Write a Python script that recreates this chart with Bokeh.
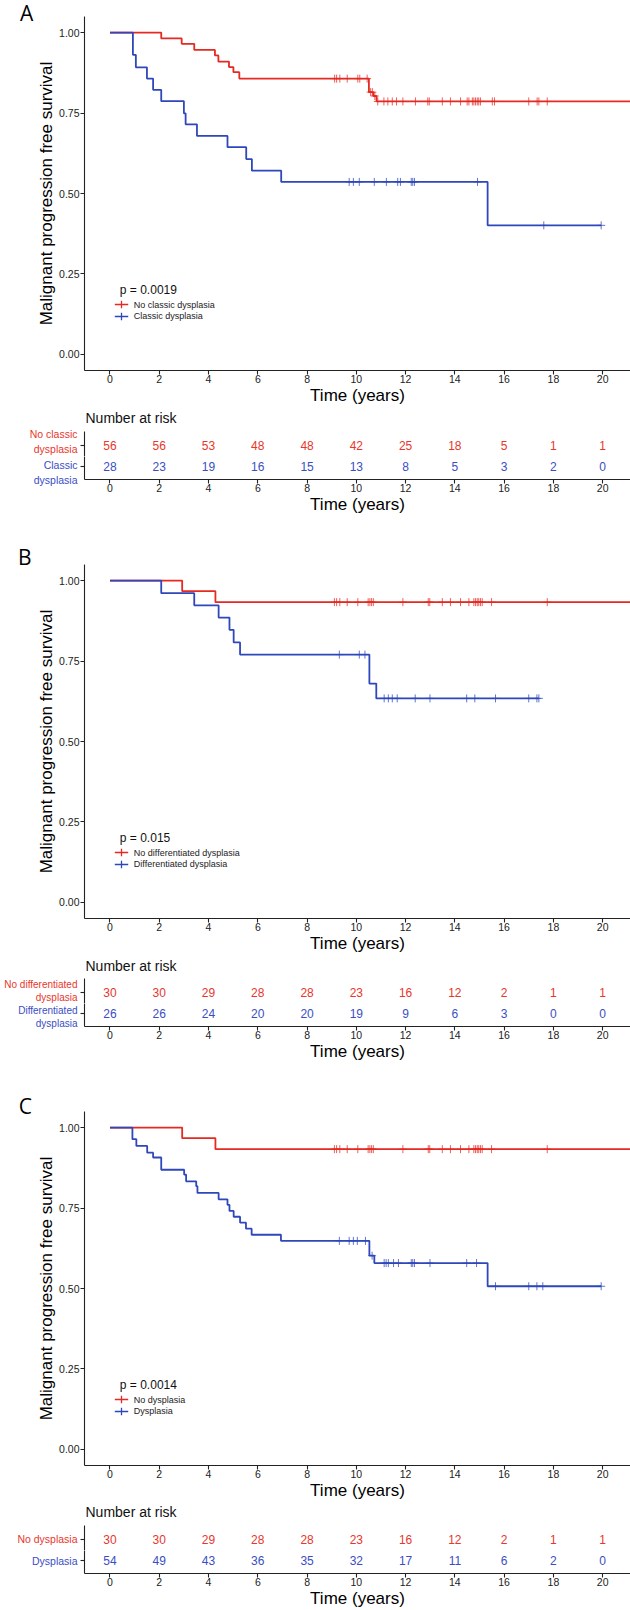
import numpy as np
from bokeh.plotting import figure
from bokeh.models import FixedTicker, NumeralTickFormatter, Range1d, ColumnDataSource, Title
from bokeh.layouts import column
from bokeh.embed import file_html
from bokeh.resources import INLINE
from bokeh.core.properties import value

# ---------------- data ----------------
time_ticks = [0, 2, 4, 6, 8, 10, 12, 14, 16, 18, 20]
surv_ticks = [0.0, 0.25, 0.5, 0.75, 1.0]

# Panel A
a_groups = ["No classic dysplasia", "Classic dysplasia"]
a_row_labels = ["No classic\ndysplasia", "Classic\ndysplasia"]
a_pval = "p = 0.0019"
a_red_event_t = [2.08, 2.91, 3.42, 4.26, 4.40, 4.83, 5.01, 5.25, 10.51, 10.69, 10.82]
a_red_event_s = [0.982, 0.965, 0.946, 0.929, 0.910, 0.893, 0.877, 0.857, 0.815, 0.803, 0.786]
a_red_cens_t = [9.12, 9.20, 9.33, 9.63, 10.06, 10.14, 10.44, 10.58, 10.65, 10.75, 10.87,
                11.12, 11.28, 11.46, 11.63, 11.89, 12.40, 12.90, 12.96, 13.49, 13.82, 14.23,
                14.50, 14.57, 14.71, 14.77, 14.84, 14.91, 14.97, 15.04, 15.52, 15.61, 17.00,
                17.34, 17.41, 17.75]
a_red_end = 21.6
a_blue_event_t = [0.93, 1.05, 1.50, 1.75, 2.08, 3.00, 3.07, 3.53, 4.77, 5.53, 5.76, 6.95, 15.33]
a_blue_event_s = [0.931, 0.892, 0.857, 0.822, 0.787, 0.749, 0.715, 0.679, 0.644, 0.607, 0.571, 0.536, 0.401]
a_blue_cens_t = [9.71, 9.88, 10.12, 10.73, 11.22, 11.68, 11.79, 12.23, 12.29, 12.36, 14.92, 17.61, 19.94]
a_blue_end = 19.94
a_risk_red = [56, 56, 53, 48, 48, 42, 25, 18, 5, 1, 1]
a_risk_blue = [28, 23, 19, 16, 15, 13, 8, 5, 3, 2, 0]

# Panel B
b_groups = ["No differentiated dysplasia", "Differentiated dysplasia"]
b_row_labels = ["No differentiated\ndysplasia", "Differentiated\ndysplasia"]
b_pval = "p = 0.015"
b_red_event_t = [2.93, 4.28]
b_red_event_s = [0.967, 0.933]
b_red_cens_t = [9.11, 9.20, 9.33, 9.63, 10.06, 10.48, 10.55, 10.62, 10.69, 11.89, 12.92, 12.98,
                13.49, 13.82, 14.23, 14.57, 14.77, 14.84, 14.91, 14.97, 15.04, 15.11, 15.49, 17.75]
b_red_end = 21.6
b_blue_event_t = [2.08, 3.42, 4.41, 4.85, 5.02, 5.28, 10.53, 10.81]
b_blue_event_s = [0.961, 0.923, 0.885, 0.847, 0.808, 0.770, 0.680, 0.634]
b_blue_cens_t = [9.31, 10.12, 10.35, 11.13, 11.30, 11.46, 11.66, 12.39, 12.99, 14.48, 14.81,
                 15.65, 17.00, 17.33, 17.41]
b_blue_end = 17.41
b_risk_red = [30, 30, 29, 28, 28, 23, 16, 12, 2, 1, 1]
b_risk_blue = [26, 26, 24, 20, 20, 19, 9, 6, 3, 0, 0]

# Panel C
c_groups = ["No dysplasia", "Dysplasia"]
c_row_labels = ["No dysplasia", "Dysplasia"]
c_pval = "p = 0.0014"
c_red_event_t = [2.93, 4.28]
c_red_event_s = [0.967, 0.933]
c_red_cens_t = [9.11, 9.20, 9.33, 9.63, 10.06, 10.48, 10.55, 10.62, 10.69, 11.89, 12.92, 12.98,
                13.49, 13.82, 14.23, 14.57, 14.77, 14.84, 14.91, 14.97, 15.04, 15.11, 15.49, 17.75]
c_red_end = 21.6
c_blue_event_t = [0.91, 1.07, 1.51, 1.75, 2.08, 3.01, 3.09, 3.50, 3.55, 4.41, 4.77, 4.85, 5.02,
                  5.28, 5.52, 5.75, 6.94, 10.53, 10.73, 15.33]
c_blue_event_s = [0.964, 0.943, 0.922, 0.907, 0.869, 0.854, 0.833, 0.818, 0.797, 0.777, 0.760,
                  0.741, 0.723, 0.705, 0.686, 0.667, 0.648, 0.602, 0.579, 0.507]
c_blue_cens_t = [9.31, 9.71, 9.88, 10.04, 10.37, 10.64, 11.13, 11.21, 11.30, 11.51, 11.71, 12.23,
                 12.29, 12.36, 12.99, 14.48, 14.88, 15.65, 17.00, 17.33, 17.57, 19.94]
c_blue_end = 19.94
c_risk_red = [30, 30, 29, 28, 28, 23, 16, 12, 2, 1, 1]
c_risk_blue = [54, 49, 43, 36, 35, 32, 17, 11, 6, 2, 0]

# ---------------- style ----------------
RED = "#E42A22"
BLUE = "#2E47BB"
RED_TXT = "#E8362C"
BLUE_TXT = "#3A4EC4"
INK = "#222222"
FONT = "Liberation Sans"

W = 630          # total width
FL = 84          # left border (every frame starts here)
XR = (-1.035, 21.13)


def base_style(p):
    p.outline_line_color = None
    p.grid.visible = False
    p.background_fill_color = "white"
    p.border_fill_color = "white"


def style(p):
    base_style(p)
    for ax in p.axis:
        ax.axis_line_color = INK
        ax.axis_line_width = 1.1
        ax.major_tick_line_color = INK
        ax.major_tick_line_width = 1.1
        ax.major_tick_out = 4
        ax.major_tick_in = 0
        ax.minor_tick_line_color = None
        ax.major_label_text_font = FONT
        ax.major_label_text_font_size = "10.5px"
        ax.major_label_text_color = INK
        ax.axis_label_text_font = FONT
        ax.axis_label_text_font_size = "17px"
        ax.axis_label_text_font_style = "normal"
        ax.axis_label_text_color = "#000000"
        ax.axis_label_standoff = 0
    for ax in p.xaxis:
        ax.major_label_standoff = 0
        ax.ticker = FixedTicker(ticks=time_ticks)
    for ax in p.yaxis:
        ax.major_label_standoff = 1


def title_strip(h, cy):
    """Blank strip (frame aligned with the plots below) holding 'Number at risk'."""
    s = figure(width=W, height=h, x_range=Range1d(FL, W), y_range=Range1d(h, 0),
               x_axis_type=None, y_axis_type=None, output_backend="svg",
               toolbar_location=None, min_border=0, min_border_left=FL)
    base_style(s)
    s.text(x=[FL + 1], y=[cy], text=["Number at risk"], text_align="left",
           text_baseline="middle", text_font=value(FONT), text_font_size="14px",
           text_color="#111111")
    return s


def km_fig(letter, letter_dx, letter_standoff, top, fh, bottom, curves, pval, groups):
    p = figure(width=W, height=top + fh + bottom, x_range=Range1d(*XR),
               y_range=Range1d(-0.05, 1.05), output_backend="svg", toolbar_location=None,
               min_border_left=FL, min_border_right=0, min_border_top=top,
               min_border_bottom=bottom,
               title=Title(text=letter, align="left", offset=letter_dx,
                           standoff=letter_standoff, text_font="Open Sans",
                           text_font_size="21px", text_font_style="normal",
                           text_color="#000000"))
    style(p)
    p.yaxis.ticker = FixedTicker(ticks=surv_ticks)
    p.yaxis.formatter = NumeralTickFormatter(format="0.00")
    p.xaxis.axis_label = "Time (years)"
    p.yaxis.axis_label = "Malignant progression free survival"

    for et, es, ct, end, color in curves:
        xs = [0.0] + et + [end]
        ys = [1.0] + es + [es[-1]]
        p.step(xs, ys, mode="after", line_color=color, line_width=1.8)
        idx = np.searchsorted(np.array(et), np.array(ct), side="right")
        cy = np.array([1.0] + es)[idx]
        p.scatter(ct, cy, marker="cross", size=8, line_color=color, line_width=1,
                  line_alpha=0.75)

    p.text(x=[0.40], y=[0.199], text=[pval], text_align="left", text_baseline="middle",
           text_font=value(FONT), text_font_size="12px", text_color="#111111")

    for i, (lab, color) in enumerate(zip(groups, [RED, BLUE])):
        ly = [0.155, 0.118][i]
        p.segment(x0=[0.195], y0=[ly], x1=[0.739], y1=[ly], line_color=color, line_width=1.6)
        p.scatter([0.467], [ly], marker="dash", angle=np.pi / 2, size=7.5,
                  line_color=color, line_width=1.3)
        p.text(x=[0.966], y=[ly], text=[lab], text_align="left", text_baseline="middle",
               text_font=value(FONT), text_font_size="9px", text_color=INK)
    return p


def risk_fig(top, fh, bottom, yr, row_y, label, color, counts, lab_font, with_x):
    p = figure(width=W, height=top + fh + bottom, x_range=Range1d(*XR),
               y_range=Range1d(*yr), output_backend="svg", toolbar_location=None,
               x_axis_location="below" if with_x else None,
               min_border_left=FL, min_border_right=0, min_border_top=top,
               min_border_bottom=bottom)
    style(p)
    p.yaxis.ticker = FixedTicker(ticks=[row_y])
    p.yaxis.major_label_overrides = {row_y: label}
    p.yaxis.major_label_text_color = color
    p.yaxis.major_label_text_font_size = lab_font
    p.yaxis.major_label_standoff = 3
    if with_x:
        p.xaxis.axis_label = "Time (years)"
    src = ColumnDataSource(dict(x=time_ticks, y=[row_y] * len(time_ticks),
                                t=[str(c) for c in counts]))
    p.text(x="x", y="y", text="t", source=src, text_align="center",
           text_baseline="middle", text_font=value(FONT), text_font_size="12px",
           text_color=color)
    return p


def panel(letter, letter_dx, letter_standoff, km_top, curves, pval, groups,
          strip_h, title_cy, red_top, blue_bottom, risk_red, risk_blue, row_labels, lab_font):
    return [
        km_fig(letter, letter_dx, letter_standoff, km_top, 356, 35, curves, pval, groups),
        title_strip(strip_h, title_cy),
        risk_fig(red_top, 25, 0, (1.5, 2.6), 2, row_labels[0], RED_TXT,
                 risk_red, lab_font, False),
        risk_fig(0, 25, blue_bottom, (0.4, 1.5), 1, row_labels[1], BLUE_TXT,
                 risk_blue, lab_font, True),
    ]


pa = panel("A", -64.5, -20, 16,
           [(a_red_event_t, a_red_event_s, a_red_cens_t, a_red_end, RED),
            (a_blue_event_t, a_blue_event_s, a_blue_cens_t, a_blue_end, BLUE)],
           a_pval, a_groups, 21, 10.3, 3, 35, a_risk_red, a_risk_blue, a_row_labels, "10.5px")
pb = panel("B", -66.4, -12, 48,
           [(b_red_event_t, b_red_event_s, b_red_cens_t, b_red_end, RED),
            (b_blue_event_t, b_blue_event_s, b_blue_cens_t, b_blue_end, BLUE)],
           b_pval, b_groups, 21, 10.0, 2, 35, b_risk_red, b_risk_blue, b_row_labels, "10px")
pc = panel("C", -65.7, -16, 48,
           [(c_red_event_t, c_red_event_s, c_red_cens_t, c_red_end, RED),
            (c_blue_event_t, c_blue_event_s, c_blue_cens_t, c_blue_end, BLUE)],
           c_pval, c_groups, 20, 9.8, 3, 35, c_risk_red, c_risk_blue, c_row_labels, "10.5px")

layout = column(*(pa + pb + pc), spacing=0)

open("out.html", "w").write(file_html(layout, INLINE))
